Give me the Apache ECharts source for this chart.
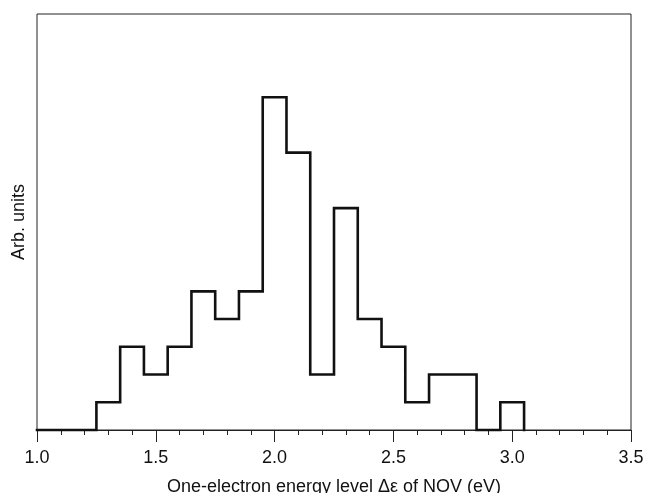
<!DOCTYPE html>
<html>
<head>
<meta charset="utf-8">
<script src="https://cdn.jsdelivr.net/npm/echarts@6/dist/echarts.min.js"></script>
<style>html,body{margin:0;padding:0;background:#fff}#c{width:645px;height:493px}</style>
</head>
<body>
<div id="c"></div>
<script>
const binCenters = [1.3,1.4,1.5,1.6,1.7,1.8,1.9,2.0,2.1,2.2,2.3,2.4,2.5,2.6,2.7,2.8,2.9,3.0];
const counts     = [1,  3,  2,  3,  5,  4,  5,  12, 10, 2,  8,  4,  3,  1,  2,  2,  0,  1];
const binWidth = 0.1;
const xStart = 1.0;
const xTickLabels = ['1.0','1.5','2.0','2.5','3.0','3.5'];

const pts = [[xStart, 0]];
pts.push([binCenters[0] - binWidth/2, 0]);
binCenters.forEach((c, i) => {
  pts.push([+(c - binWidth/2).toFixed(3), counts[i]]);
  pts.push([+(c + binWidth/2).toFixed(3), counts[i]]);
});
pts.push([binCenters[binCenters.length-1] + binWidth/2, 0]);

const chart = echarts.init(document.getElementById('c'), null, {renderer:'canvas'});
chart.setOption({
  animation: false,
  backgroundColor: '#fff',
  grid: {left: 37, right: 14, top: 14, bottom: 63, containLabel: false, outerBoundsMode: 'none',
    show: true, borderColor: '#222', borderWidth: 1, backgroundColor: 'transparent'},
  xAxis: {
    type: 'value', min: 1.0, max: 3.5, interval: 0.5,
    name: 'One-electron energy level \u0394\u03b5 of NOV (eV)',
    nameLocation: 'middle', nameGap: 48,
    nameTextStyle: {fontFamily: 'Liberation Sans, Arial', fontSize: 18, color: '#111'},
    axisLine: {show: true, onZero: false, lineStyle: {color: '#222', width: 1}},
    axisTick: {show: true, inside: false, length: 12, lineStyle: {color: '#222', width: 1}},
    minorTick: {show: true, splitNumber: 5, length: 5, lineStyle: {color: '#222', width: 1}},
    axisLabel: {fontFamily: 'Liberation Sans, Arial', fontSize: 18, color: '#111', margin: 19,
      formatter: v => { const s = xTickLabels.find(t => Math.abs(parseFloat(t) - v) < 1e-6); return s || ''; }},
    splitLine: {show: false}
  },
  yAxis: {
    type: 'value', min: 0, max: 15,
    name: 'Arb. units', nameLocation: 'middle', nameGap: 9,
    nameTextStyle: {fontFamily: 'Liberation Sans, Arial', fontSize: 18, color: '#111'},
    axisLine: {show: false}, axisTick: {show: false}, axisLabel: {show: false}, splitLine: {show: false}
  },
  series: [{
    type: 'line', data: pts, symbol: 'none', clip: false,
    lineStyle: {color: '#111', width: 2.6, join: 'miter', cap: 'square'}
  }]
});
</script>
</body>
</html>
